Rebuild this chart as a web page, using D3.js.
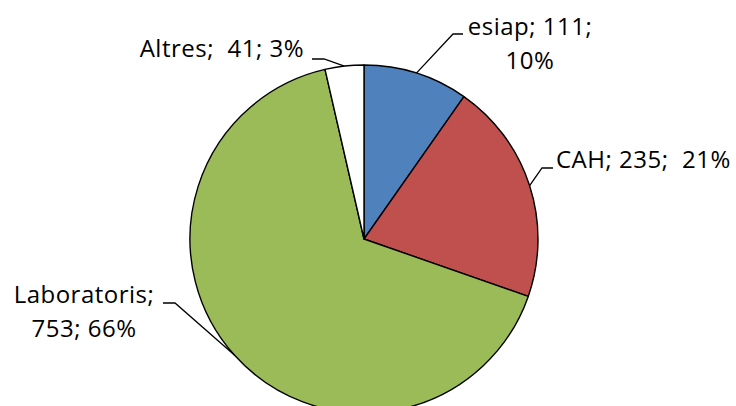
<!DOCTYPE html>
<html><head><meta charset="utf-8">
<script src="https://cdn.jsdelivr.net/npm/d3@7"></script>
<style>
html,body{margin:0;padding:0;background:#fff;}
svg text{font-family:"Open Sans","Noto Sans",sans-serif;font-size:24px;letter-spacing:0.5px;fill:#000;}
</style></head>
<body><svg id="c" width="736" height="406"></svg>
<script>
const categories = ["esiap", "CAH", "Laboratoris", "Altres"];
const values = [111, 235, 753, 41];
const percents = ["10%", "21%", "66%", "3%"];
const colors = ["#4F81BD", "#C0504D", "#9BBB59", "#FFFFFF"];

// label layout (positions only)
const labelLayout = [
  {lines: d => [d.cat + "; " + d.val + ";", d.pct], x: 530, y: 35, anchor: "middle", knee: [453, 34], end: [463, 34]},
  {lines: d => [d.cat + "; " + d.val + ";  " + d.pct], x: 556, y: 168, anchor: "start", knee: [542, 168], end: [553, 168]},
  {lines: d => [d.cat + ";", d.val + "; " + d.pct], x: 84, y: 303, anchor: "middle", knee: [175, 303], end: [163, 303]},
  {lines: d => [d.cat + ";  " + d.val + "; " + d.pct], x: 304, y: 57, anchor: "end", knee: [324, 59], end: [312, 59]}
];

const cx = 364, cy = 239, r = 174;
const svg = d3.select("#c");
const g = svg.append("g").attr("transform", `translate(${cx},${cy})`);

const data = categories.map((c, i) => ({cat: c, val: values[i], pct: percents[i], color: colors[i]}));
const pie = d3.pie().value(d => d.val).sort(null);
const arcs = pie(data);
const arc = d3.arc().innerRadius(0).outerRadius(r);

g.selectAll("path.slice").data(arcs).enter().append("path")
  .attr("class", "slice")
  .attr("d", arc)
  .attr("fill", d => d.data.color)
  .attr("stroke", "#000")
  .attr("stroke-width", 1.4)
  .attr("stroke-linejoin", "round");

// leader lines
arcs.forEach((a, i) => {
  const L = labelLayout[i];
  const mid = (a.startAngle + a.endAngle) / 2;
  const ex = cx + r * Math.sin(mid), ey = cy - r * Math.cos(mid);
  svg.append("path")
    .attr("d", d3.line()([L.end, L.knee, [ex, ey]]))
    .attr("fill", "none").attr("stroke", "#000").attr("stroke-width", 1.3);
});

// labels
arcs.forEach((a, i) => {
  const L = labelLayout[i];
  const t = svg.append("text").attr("text-anchor", L.anchor);
  L.lines(a.data).forEach((ln, j) => {
    t.append("tspan").attr("x", L.x).attr("y", L.y + j * 34).attr("xml:space", "preserve").style("white-space", "pre").text(ln);
  });
});
</script></body></html>
